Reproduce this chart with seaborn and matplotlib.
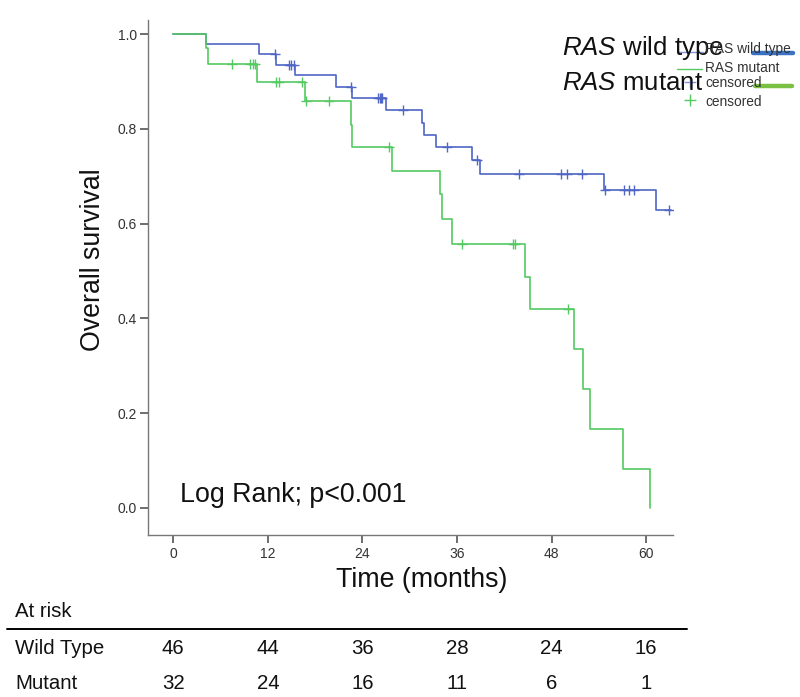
import numpy as np
import pandas as pd
import matplotlib
matplotlib.use("Agg")
import matplotlib.pyplot as plt
from matplotlib.lines import Line2D
import matplotlib.transforms as mtransforms
import seaborn as sns

# ---------------- data ----------------
wt_times = [0, 4.2, 10.9, 13.0, 15.5, 20.6, 22.7, 27.0, 31.6, 31.8, 33.3, 37.9, 38.9, 54.7, 61.2, 63.2]
wt_surv = [1.0, 0.979, 0.958, 0.936, 0.914, 0.889, 0.865, 0.840, 0.812, 0.788, 0.761, 0.735, 0.705, 0.672, 0.630, 0.630]
wt_censor = [12.9, 14.7, 15.0, 15.3, 22.5, 26.0, 26.2, 26.4, 26.5, 29.1, 34.7, 38.5, 43.9, 49.2, 50.0, 51.8,
             54.8, 57.2, 57.8, 58.4, 62.9]

mut_times = [0, 4.2, 4.4, 10.6, 16.7, 22.5, 22.65, 27.8, 33.9, 34.05, 35.4, 44.6, 45.3, 50.9, 52.0, 52.9, 57.0, 60.5]
mut_surv = [1.0, 0.970, 0.938, 0.900, 0.858, 0.809, 0.761, 0.712, 0.662, 0.611, 0.558, 0.488, 0.419, 0.335,
            0.251, 0.167, 0.083, 0.0]
mut_censor = [7.4, 9.7, 10.1, 10.4, 13.1, 13.4, 16.3, 16.9, 19.7, 27.4, 36.6, 43.1, 43.3, 50.1]

risk_times = [0, 12, 24, 36, 48, 60]
risk_wt = [46, 44, 36, 28, 24, 16]
risk_mut = [32, 24, 16, 11, 6, 1]
x_ticks = [0, 12, 24, 36, 48, 60]
y_ticks = [0.0, 0.2, 0.4, 0.6, 0.8, 1.0]

BLUE = "#4f66c6"
GREEN = "#55c962"

sns.set_theme(style="white")
plt.rcParams["font.family"] = ["Liberation Sans", "DejaVu Sans"]
plt.rcParams["mathtext.fontset"] = "custom"
plt.rcParams["mathtext.it"] = "Liberation Sans:italic"
plt.rcParams["mathtext.rm"] = "Liberation Sans"

W, H = 800, 697
fig = plt.figure(figsize=(W / 100, H / 100), dpi=100)
ax = fig.add_axes([148 / W, 1 - 535 / H, (673 - 148) / W, (535 - 20) / H])


def step_value(times, surv, t):
    idx = np.searchsorted(np.asarray(times), t, side="right") - 1
    return np.asarray(surv)[idx]


wt_df = pd.DataFrame({"t": wt_times, "s": wt_surv})
mut_df = pd.DataFrame({"t": mut_times, "s": mut_surv})
wt_c = pd.DataFrame({"t": wt_censor, "s": step_value(wt_times, wt_surv, wt_censor)})
mut_c = pd.DataFrame({"t": mut_censor, "s": step_value(mut_times, mut_surv, mut_censor)})

sns.lineplot(data=wt_df, x="t", y="s", ax=ax, color=BLUE, lw=1.2, drawstyle="steps-post",
             estimator=None, sort=False)
sns.lineplot(data=mut_df, x="t", y="s", ax=ax, color=GREEN, lw=1.2, drawstyle="steps-post",
             estimator=None, sort=False)
sns.scatterplot(data=wt_c, x="t", y="s", ax=ax, color=BLUE, marker="+", s=45, linewidth=1.0)
sns.scatterplot(data=mut_c, x="t", y="s", ax=ax, color=GREEN, marker="+", s=45, linewidth=1.0)

ax.set_xlim(-3.2, 63.4)
ax.set_ylim(-0.057, 1.03)
ax.set_xticks(x_ticks)
ax.set_yticks(y_ticks)
ax.set_xticklabels([str(v) for v in x_ticks])
ax.set_yticklabels([f"{v:.1f}" for v in y_ticks])
ax.set_xlabel("")
ax.set_ylabel("")
for side in ["top", "right"]:
    ax.spines[side].set_visible(False)
for side in ["left", "bottom"]:
    ax.spines[side].set_color("#777777")
    ax.spines[side].set_linewidth(1.0)
ax.tick_params(axis="both", direction="out", length=6, width=1.2, color="#555555",
               labelsize=10, labelcolor="#333333", left=True, bottom=True)
ax.tick_params(axis="y", pad=2)
ax.tick_params(axis="x", pad=3)

# axis titles
fig.text(421.5 / W, 1 - 580 / H, "Time (months)", ha="center", va="center", fontsize=19.3, color="#111111")
fig.text(93 / W, 1 - 260 / H, "Overall survival", ha="center", va="center", rotation=90,
         fontsize=19.3, color="#111111")

# log rank annotation
fig.text(180 / W, 1 - 495 / H, "Log Rank; p<0.001", ha="left", va="center", fontsize=19.3, color="#111111")

# big legend text
fig.text(562 / W, 1 - 48 / H, r"$\mathit{RAS}$ wild type", ha="left", va="center", fontsize=18.6, color="#111111")
fig.text(562 / W, 1 - 83 / H, r"$\mathit{RAS}$ mutant", ha="left", va="center", fontsize=18.6, color="#111111")

# small legend (SPSS style)
small = [("RAS wild type", 49.3), ("RAS mutant", 67.7), ("censored", 83.3), ("censored", 101.7)]
for lab, yy in small:
    fig.text(705 / W, 1 - yy / H, lab, ha="left", va="center", fontsize=9.9, color="#333333")
fig.add_artist(Line2D([678 / W, 703 / W], [1 - 52 / H, 1 - 52 / H], color=BLUE, lw=1.0, alpha=0.7))
fig.add_artist(Line2D([677 / W, 702 / W], [1 - 69 / H, 1 - 69 / H], color=GREEN, lw=1.0))
fig.add_artist(Line2D([690 / W], [1 - 82 / H], color=BLUE, marker="+", ms=9, mew=1.0, alpha=0.7))
fig.add_artist(Line2D([690 / W], [1 - 100 / H], color=GREEN, marker="+", ms=9, mew=1.0))
fig.add_artist(Line2D([753 / W, 793 / W], [1 - 52.7 / H, 1 - 52.7 / H], color="#3b73c4", lw=3.2))
fig.add_artist(Line2D([755 / W, 792 / W], [1 - 86 / H, 1 - 86 / H], color="#7ac143", lw=3.2))

# at-risk table
blend = mtransforms.blended_transform_factory(ax.transData, fig.transFigure)
fig.text(15 / W, 1 - 611.7 / H, "At risk", ha="left", va="center", fontsize=14.7, color="#111111")
fig.add_artist(Line2D([7 / W, 687 / W], [1 - 629.3 / H, 1 - 629.3 / H], color="black", lw=1.4))
fig.text(15 / W, 1 - 648.3 / H, "Wild Type", ha="left", va="center", fontsize=14.7, color="#111111")
fig.text(15 / W, 1 - 683.3 / H, "Mutant", ha="left", va="center", fontsize=14.7, color="#111111")
for t, a, b in zip(risk_times, risk_wt, risk_mut):
    ax.text(t, 1 - 648.3 / H, str(a), transform=blend, ha="center", va="center", fontsize=14.7,
            color="#111111", clip_on=False)
    ax.text(t, 1 - 683.3 / H, str(b), transform=blend, ha="center", va="center", fontsize=14.7,
            color="#111111", clip_on=False)

fig.savefig("out.png", dpi=100)
